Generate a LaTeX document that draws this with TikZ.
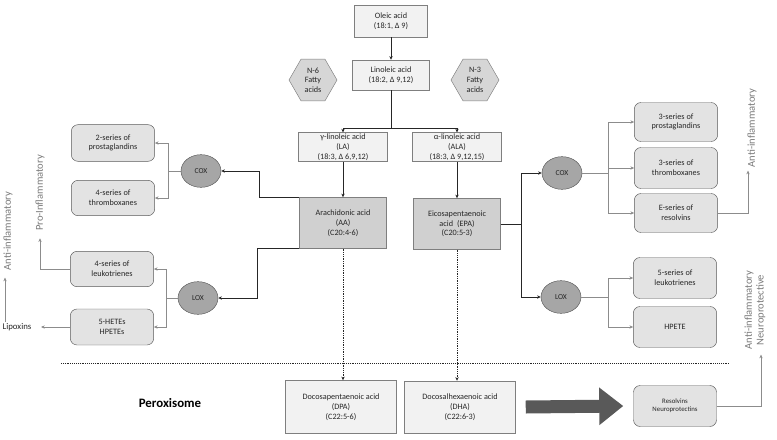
\documentclass[tikz,border=0pt]{standalone}
\usepackage{fontspec}
\setmainfont{Carlito}
\usepackage{tikz}
\usetikzlibrary{positioning,arrows.meta,shapes.geometric}
\definecolor{ink}{HTML}{262626}
\definecolor{edge}{HTML}{7F7F7F}
\definecolor{darkedge}{HTML}{5A5A5A}
\definecolor{paper}{HTML}{F2F2F2}
\definecolor{midgrey}{HTML}{D0D0D0}
\definecolor{roundgrey}{HTML}{E3E3E3}
\definecolor{enzgrey}{HTML}{A6A6A6}
\definecolor{hexgrey}{HTML}{D6D6D6}
\definecolor{linegrey}{HTML}{8C8C8C}
\definecolor{arrowgrey}{HTML}{595959}
\definecolor{labelgrey}{HTML}{7A7A7A}
\tikzset{
  acid/.style={draw=edge,fill=paper,inner sep=1pt,align=center,text=ink,font=\fontsize{7}{8.3}\selectfont},
  keyacid/.style={acid,fill=midgrey,minimum width=26.1mm,minimum height=15.3mm},
  product/.style={draw=darkedge,fill=roundgrey,rounded corners=2mm,inner sep=1pt,align=center,text=ink,
    font=\fontsize{7}{8.3}\selectfont,minimum width=25mm,minimum height=11.4mm},
  enzyme/.style={ellipse,draw=darkedge,fill=enzgrey,minimum width=12mm,minimum height=9.8mm,inner sep=0pt,
    text=ink,font=\fontsize{6.5}{7}\selectfont},
  family/.style={regular polygon,regular polygon sides=6,minimum size=14.4mm,inner sep=0pt,draw=edge,
    fill=hexgrey,align=center,text=ink,font=\fontsize{7}{8.3}\selectfont},
  sidelbl/.style={rotate=90,align=center,text=labelgrey,font=\fontsize{9}{10}\selectfont,inner sep=1pt},
  flow/.style={-{Stealth[length=1.1mm,width=1mm]},draw=ink,line width=0.5pt},
  flowl/.style={-{Stealth[length=1.1mm,width=1mm]},draw=linegrey,line width=0.5pt},
  link/.style={draw=ink,line width=0.5pt},
  linkl/.style={draw=linegrey,line width=0.5pt},
  dotflow/.style={flow,densely dotted,line width=0.8pt},
  bigarrow/.style={-{Triangle[length=7.2mm,width=10.8mm]},draw=arrowgrey,line width=3.9mm}}

\begin{document}
\begin{tikzpicture}[x=0.3mm,y=-0.3mm]
  \useasboundingbox (0,0) rectangle (777,439);
  % precursors
  \node[acid,minimum width=21.9mm,minimum height=9.6mm] (ole) at (391,21) {Oleic acid\\(18:1, Δ 9)};
  \node[acid,minimum width=23.1mm,minimum height=9mm] (lin) at (391,75) {Linoleic acid\\(18:2, Δ 9,12)};
  \node[family] (n6) at (313,80) {N-6\\Fatty\\acids};
  \node[family] (n3) at (475,80) {N-3\\Fatty\\acids};
  \node[acid,minimum width=26.7mm,minimum height=8.1mm] (gla) at (343,147) {γ-linoleic acid\\(LA)\\(18:3, Δ 6,9,12)};
  \node[acid,minimum width=26.7mm,minimum height=8.1mm] (ala) at (457,147) {α-linoleic acid\\(ALA)\\(18:3, Δ 9,12,15)};
  \node[keyacid] (aa) at (343,223) {Arachidonic acid\\(AA)\\(C20:4-6)};
  \node[keyacid] (epa) at (457,224) {Eicosapentaenoic\\acid\enspace(EPA)\\(C20:5-3)};
  % n-6 side
  \node[enzyme] (lcox) at (201,171) {COX};
  \node[enzyme] (llox) at (198,298) {LOX};
  \node[product,minimum height=11mm] (pg2) at (113,143) {2-series of\\prostaglandins};
  \node[product,minimum height=10.6mm] (tx4) at (113,198) {4-series of\\thromboxanes};
  \node[product,minimum height=10.6mm] (lt4) at (112,269) {4-series of\\leukotrienes};
  \node[product,minimum height=10.8mm] (hete) at (112,327) {5-HETEs\\HPETEs};
  \node[text=ink,font=\fontsize{7.5}{9}\selectfont,inner sep=1pt] (lipox) at (17,327) {Lipoxins};
  \node[sidelbl] (antil) at (8,231) {Anti-inflammatory};
  \node[sidelbl] (pro) at (40,193) {Pro-Inflammatory};
  % n-3 side
  \node[enzyme] (rcox) at (562,173) {COX};
  \node[enzyme] (rlox) at (561,297) {LOX};
  \node[product,minimum height=11.7mm] (pg3) at (676,122) {3-series of\\prostaglandins};
  \node[product,minimum height=12.3mm] (tx3) at (676,168) {3-series of\\thromboxanes};
  \node[product,minimum height=11.7mm] (rv) at (676,213) {E-series of\\resolvins};
  \node[product,minimum height=12.3mm] (lt5) at (675,278) {5-series of\\leukotrienes};
  \node[product,minimum height=12.3mm] (hpete) at (675,327) {HPETE};
  \node[sidelbl] (antir) at (752,128) {Anti-inflammatory};
  \node[sidelbl] (antin) at (755,310) {Anti-inflammatory\\Neuroprotective};
  % peroxisome
  \node[font=\fontsize{11}{13}\selectfont\bfseries,text=black] (perox) at (170,403) {Peroxisome};
  \node[acid,minimum width=33.3mm,minimum height=15.9mm] (dpa) at (341,407) {Docosapentaenoic acid\\(DPA)\\(C22:5-6)};
  \node[acid,minimum width=33.3mm,minimum height=15.6mm] (dha) at (460,407) {Docosalhexaenoic acid\\(DHA)\\(C22:6-3)};
  \node[product,minimum width=24.9mm,minimum height=12.3mm,font=\fontsize{5.8}{7}\selectfont] (res) at (675,406) {Resolvins\\Neuroprotectins};
  \draw[densely dotted,draw=ink,line width=0.6pt] (61,363) -- (730,363);

  \draw[flow] (ole) -- (lin);
  \draw[link] (lin.south) -- ++(0,38) coordinate (lb);
  \draw[flow] (lb) -| (gla.north);
  \draw[flow] (lb) -| (ala.north);
  \draw[flow] (gla) -- (aa);
  \draw[flow] (ala) -- (ala |- epa.north);
  \draw[flow] (aa.north west) -- ++(-40,0) |- (lcox.east);
  \draw[flow] (aa.south west) -- ++(-42,0) |- (llox.east);
  \draw[linkl] (lcox.west) -- ++(-12,0) coordinate (lc);
  \foreach \p in {pg2,tx4}{\draw[flowl] (lc) |- (\p.east);}
  \draw[linkl] (llox.west) -- ++(-11,0) coordinate (ll);
  \foreach \p in {lt4,hete}{\draw[flowl] (ll) |- (\p.east);}
  \draw[flowl] (lt4.west) -| ([yshift=-1.8mm]pro.west);
  \draw[flowl,shorten >=2.5mm] (hete.west) -- (lipox.east);
  \draw[flowl] ([xshift=-0.9mm]antil.west |- lipox.north) -- ([xshift=-0.9mm,yshift=-1.8mm]antil.west);
  \draw[link] (epa.east) -- ++(21,0) coordinate (eb);
  \draw[flow] (eb) |- (rcox.west);
  \draw[flow] (eb) |- (rlox.west);
  \draw[linkl] (rcox.east) -- ++(26,0) coordinate (rc);
  \foreach \p in {pg3,tx3,rv}{\draw[flowl] (rc) |- (\p.west);}
  \draw[linkl] (rlox.east) -- ++(27,0) coordinate (rl);
  \foreach \p in {lt5,hpete}{\draw[flowl] (rl) |- (\p.west);}
  \draw[flowl] (rv.east) -| ([xshift=-1.2mm,yshift=-0.6mm]antir.west);
  \draw[flowl] (res.east) -| ([xshift=1.8mm,yshift=-1.2mm]antin.west);
  \draw[dotflow] (aa.south) -- (aa.south |- dpa.north);
  \draw[dotflow] (epa.south) -- (epa.south |- dha.north);
  \draw[bigarrow] ([xshift=3mm]dha.east) -- ([xshift=-3mm]res.west);
\end{tikzpicture}
\end{document}
